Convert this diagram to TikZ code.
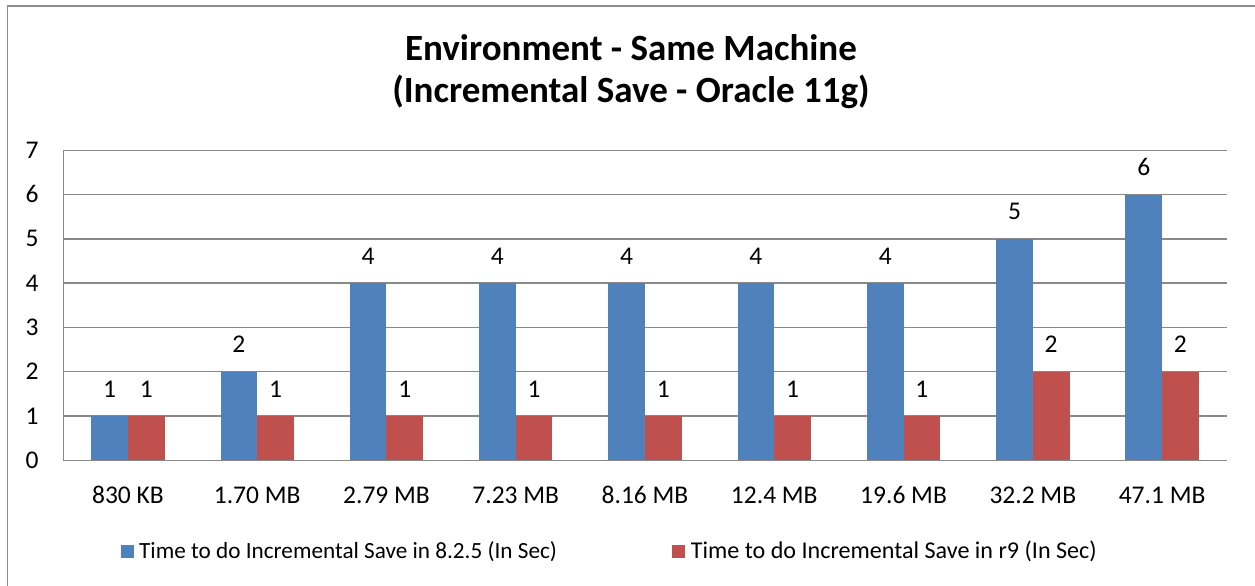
\documentclass[tikz,border=0pt]{standalone}
\usepackage{fontspec}
\setmainfont{Carlito}
\definecolor{serA}{HTML}{4F81BD}
\definecolor{serB}{HTML}{C0504D}
\definecolor{gridc}{HTML}{898989}
\definecolor{framec}{HTML}{8C8C8C}
\begin{document}
\begin{tikzpicture}[x=1bp,y=-1bp,
  txt/.style={font=\fontsize{25.5bp}{30bp}\selectfont, inner sep=0pt, anchor=base},
  legtxt/.style={inner sep=0pt, anchor=base west},
  ttl/.style={font=\fontsize{37bp}{44bp}\selectfont\bfseries, inner sep=0pt, anchor=base},
  gridline/.style={draw=gridc, line width=1.5bp},
  barA/.style={fill=serA, draw=none},
  barB/.style={fill=serB, draw=none}]
\clip (0,0) rectangle (1255,586);
\fill[white] (0,0) rectangle (1255,586);
% outer frame
\draw[framec, line width=1.3bp] (7.5,600) -- (7.5,6) -- (1270,6) -- (1270,600);
% title
\node[ttl] (t1) at (631,60.5) {Environment - Same Machine};
\node[ttl] (t2) at (631,102.5) {(Incremental Save - Oracle 11g)};
% gridlines and tick labels
\foreach \v in {1,...,7} {
  \draw[gridline] (63.3,{460.3-44.29*\v}) -- (1226.7,{460.3-44.29*\v});
}
\foreach \v in {0,...,7} {
  \node[txt] (tick\v) at (32,{460.3-44.29*\v+8}) {\v};
}
% bars
\foreach \a/\b/\lab [count=\i] in {1/1/830 KB,2/1/1.70 MB,4/1/2.79 MB,4/1/7.23 MB,4/1/8.16 MB,4/1/12.4 MB,4/1/19.6 MB,5/2/32.2 MB,6/2/47.1 MB} {
  \pgfmathsetmacro{\c}{63.3+129.27*(\i-0.5)}
  \fill[barA] ({\c-36.7},460.3) rectangle (\c,{460.3-44.29*\a});
  \fill[barB] (\c,460.3) rectangle ({\c+36.7},{460.3-44.29*\b});
  \node[txt] (la\i) at ({\c-18.35},{460.3-44.29*\a-19}) {\a};
  \node[txt] (lb\i) at ({\c+18.35},{460.3-44.29*\b-19}) {\b};
  \node[txt] (cat\i) at (\c,503) {\lab};
}
% axes
\draw[gridline] (63.3,150.3) -- (63.3,460.3) -- (1226.7,460.3);
% legend
\fill[serA] (120.7,544.5) rectangle (134,557.5);
\node[legtxt, font=\fontsize{23.2bp}{28bp}\selectfont] (legA) at (139,558) {Time to do Incremental Save in 8.2.5 (In Sec)};
\fill[serB] (671.7,544.5) rectangle (684.7,557.5);
\node[legtxt, font=\fontsize{24.1bp}{28bp}\selectfont] (legB) at (690.7,558) {Time to do Incremental Save in r9 (In Sec)};
\end{tikzpicture}
\end{document}
